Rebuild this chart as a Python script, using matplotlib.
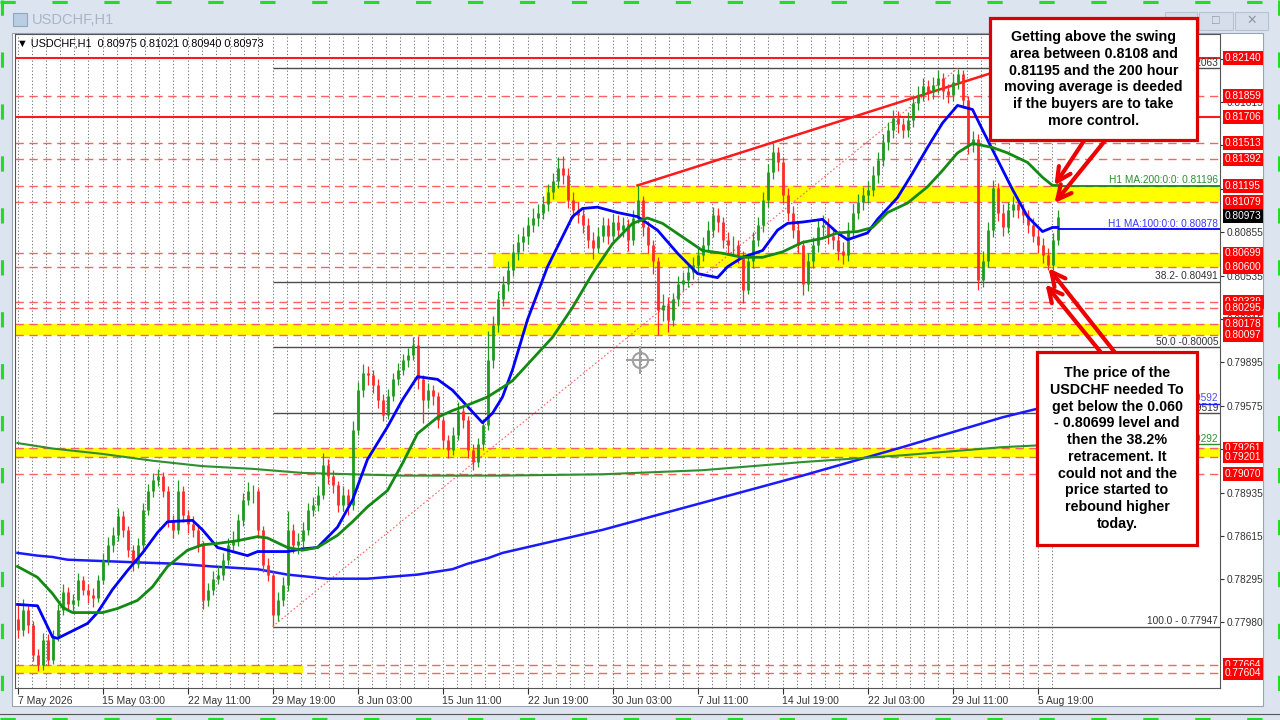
import numpy as np
import matplotlib.pyplot as plt
from matplotlib.patches import Rectangle
from matplotlib.lines import Line2D
from matplotlib.transforms import blended_transform_factory

plt.rcParams['font.family'] = ['Liberation Sans', 'DejaVu Sans']

# ---- price bars (aggregated from the H1 chart), values in 1e-4 units ----
first_open = 7800
close = [7792, 7807, 7796, 7774, 7766, 7785, 7770, 7788, 7807, 7820,
         7811, 7814, 7829, 7822, 7818, 7816, 7829, 7844, 7855, 7862,
         7876, 7866, 7851, 7841, 7855, 7881, 7895, 7903, 7906, 7895,
         7873, 7866, 7895, 7877, 7870, 7866, 7855, 7814, 7822, 7830,
         7833, 7844, 7855, 7858, 7873, 7888, 7895, 7895, 7866, 7840,
         7833, 7803, 7814, 7825, 7866, 7855, 7858, 7866, 7881, 7884,
         7892, 7914, 7906, 7899, 7884, 7892, 7884, 7940, 7969, 7982,
         7980, 7973, 7962, 7951, 7965, 7977, 7984, 7991, 7995, 8002,
         7977, 7962, 7969, 7965, 7947, 7932, 7925, 7936, 7954, 7947,
         7925, 7916, 7929, 7943, 7991, 8017, 8036, 8047, 8058, 8071,
         8078, 8083, 8091, 8096, 8100, 8106, 8115, 8123, 8133, 8128,
         8109, 8102, 8098, 8091, 8080, 8074, 8083, 8091, 8083, 8093,
         8087, 8091, 8080, 8096, 8109, 8089, 8076, 8064, 8028, 8032,
         8021, 8036, 8047, 8050, 8056, 8061, 8069, 8076, 8087, 8098,
         8093, 8080, 8076, 8076, 8069, 8043, 8064, 8080, 8091, 8109,
         8130, 8145, 8137, 8113, 8100, 8087, 8076, 8047, 8064, 8076,
         8089, 8091, 8083, 8080, 8072, 8069, 8087, 8100, 8108, 8113,
         8117, 8128, 8139, 8152, 8161, 8170, 8165, 8161, 8168, 8181,
         8187, 8193, 8189, 8194, 8199, 8190, 8187, 8196, 8202, 8183,
         8150, 8154, 8050, 8064, 8087, 8118, 8100, 8089, 8102, 8106,
         8102, 8098, 8091, 8083, 8076, 8069, 8061, 8080, 8097]
high = [7812, 7815, 7810, 7799, 7778, 7790, 7789, 7792, 7811, 7826,
        7824, 7819, 7834, 7832, 7826, 7823, 7833, 7849, 7861, 7868,
        7882, 7880, 7869, 7855, 7860, 7886, 7900, 7908, 7911, 7909,
        7898, 7877, 7903, 7898, 7881, 7876, 7870, 7858, 7827, 7836,
        7839, 7849, 7860, 7865, 7878, 7893, 7901, 7899, 7897, 7869,
        7845, 7836, 7820, 7831, 7880, 7870, 7864, 7872, 7886, 7890,
        7898, 7923, 7918, 7910, 7902, 7898, 7896, 7946, 7975, 7988,
        7987, 7984, 7977, 7966, 7970, 7982, 7989, 7996, 8000, 8008,
        8009, 7980, 7974, 7973, 7968, 7950, 7936, 7942, 7960, 7958,
        7950, 7929, 7934, 7948, 8013, 8024, 8042, 8053, 8064, 8077,
        8084, 8089, 8097, 8103, 8106, 8112, 8121, 8129, 8141, 8142,
        8133, 8115, 8108, 8104, 8096, 8086, 8089, 8097, 8096, 8099,
        8098, 8097, 8095, 8102, 8120, 8112, 8094, 8080, 8067, 8040,
        8038, 8041, 8053, 8056, 8062, 8067, 8075, 8082, 8094, 8104,
        8103, 8097, 8086, 8083, 8080, 8072, 8070, 8086, 8097, 8115,
        8136, 8151, 8148, 8141, 8118, 8105, 8092, 8080, 8070, 8082,
        8095, 8098, 8096, 8089, 8085, 8078, 8093, 8106, 8114, 8119,
        8123, 8134, 8145, 8158, 8167, 8176, 8175, 8170, 8174, 8187,
        8193, 8199, 8198, 8200, 8205, 8203, 8195, 8202, 8206, 8205,
        8186, 8160, 8158, 8072, 8093, 8124, 8122, 8106, 8108, 8112,
        8110, 8106, 8102, 8096, 8088, 8081, 8074, 8085, 8102]
low = [7786, 7788, 7790, 7769, 7762, 7763, 7766, 7767, 7784, 7803,
       7806, 7806, 7810, 7818, 7812, 7809, 7813, 7826, 7840, 7850,
       7858, 7861, 7846, 7836, 7838, 7852, 7877, 7890, 7898, 7890,
       7868, 7860, 7863, 7872, 7864, 7861, 7850, 7808, 7810, 7818,
       7826, 7829, 7840, 7851, 7854, 7869, 7884, 7886, 7860, 7835,
       7828, 7795, 7799, 7810, 7821, 7849, 7848, 7853, 7862, 7876,
       7880, 7889, 7900, 7893, 7879, 7880, 7877, 7881, 7936, 7964,
       7973, 7967, 7956, 7946, 7948, 7961, 7973, 7980, 7986, 7991,
       7970, 7945, 7956, 7958, 7941, 7926, 7919, 7921, 7932, 7941,
       7919, 7910, 7912, 7925, 7940, 7985, 8012, 8031, 8042, 8053,
       8065, 8072, 8077, 8086, 8090, 8095, 8101, 8110, 8118, 8121,
       8103, 8096, 8092, 8085, 8074, 8066, 8070, 8078, 8077, 8079,
       8081, 8082, 8072, 8076, 8092, 8083, 8070, 8055, 8010, 8020,
       8012, 8016, 8031, 8042, 8045, 8051, 8056, 8064, 8071, 8082,
       8086, 8074, 8070, 8069, 8063, 8033, 8040, 8059, 8075, 8086,
       8104, 8125, 8131, 8107, 8094, 8081, 8070, 8039, 8042, 8059,
       8071, 8083, 8077, 8073, 8065, 8062, 8064, 8082, 8095, 8102,
       8107, 8112, 8122, 8134, 8146, 8155, 8159, 8155, 8156, 8163,
       8176, 8182, 8183, 8184, 8188, 8184, 8181, 8182, 8191, 8177,
       8143, 8145, 8043, 8045, 8060, 8082, 8094, 8083, 8085, 8097,
       8096, 8092, 8085, 8078, 8070, 8063, 8058, 8058, 8076]

# moving averages (bar index, value in 1e-4 units)
ma100_x = [0, 4, 7, 8, 14, 16, 19, 22, 25, 28, 30, 35, 37, 40, 44, 46, 48, 50, 54, 57,
           60, 64, 67, 70, 74, 77, 80, 84, 87, 90, 93, 95, 97, 99, 102, 106, 111, 113, 116, 120,
           124, 128, 132, 136, 140, 142, 145, 149, 152, 154, 157, 161, 164, 166, 170, 172, 176, 179, 182, 185,
           188, 191, 193, 196, 199, 202, 205, 207, 208]
ma100_v = [7811, 7810, 7787, 7786, 7797, 7805, 7822, 7836, 7849, 7864, 7872, 7873, 7866, 7853, 7849, 7847, 7850, 7850, 7850, 7852,
           7853, 7868, 7888, 7918, 7942, 7962, 7979, 7977, 7969, 7957, 7945, 7952, 7964, 7984, 8021, 8060, 8097, 8103, 8104, 8100,
           8097, 8087, 8070, 8055, 8052, 8060, 8067, 8072, 8087, 8092, 8093, 8095, 8085, 8080, 8085, 8095, 8111, 8129, 8148, 8166,
           8179, 8176, 8161, 8139, 8117, 8097, 8086, 8089, 8089]
ma200_x = [0, 4, 7, 9, 11, 14, 17, 20, 24, 27, 30, 34, 37, 40, 44, 48, 50, 54, 57, 60,
           64, 67, 70, 74, 77, 80, 84, 87, 90, 94, 97, 99, 107, 111, 115, 119, 123, 126, 129, 133,
           137, 141, 145, 149, 153, 157, 161, 164, 168, 171, 174, 178, 182, 185, 188, 191, 195, 198, 202, 205,
           207, 208]
ma200_v = [7839, 7831, 7819, 7809, 7805, 7805, 7805, 7808, 7814, 7824, 7839, 7851, 7855, 7856, 7858, 7861, 7860, 7853, 7851, 7853,
           7862, 7872, 7883, 7895, 7915, 7937, 7949, 7954, 7958, 7964, 7971, 7976, 8008, 8030, 8055, 8077, 8092, 8096, 8092, 8082,
           8072, 8070, 8067, 8067, 8071, 8078, 8081, 8085, 8086, 8089, 8100, 8107, 8119, 8131, 8144, 8151, 8148, 8144, 8137, 8126,
           8120, 8120]
lt_blue_x = [0, 4, 7, 10, 17, 24, 32, 39, 48, 54, 62, 64, 70, 80, 87, 90, 94, 97, 117, 137, 157, 177, 197, 208]
lt_blue_v = [7849, 7847, 7846, 7844, 7843, 7842, 7841, 7839, 7837, 7833, 7830, 7830, 7830, 7833, 7837, 7841, 7845, 7849,
             7866, 7886, 7906, 7927, 7949, 7959]
lt_green_x = [0, 7, 17, 27, 37, 47, 57, 67, 77, 87, 97, 117, 137, 157, 177, 197, 208]
lt_green_v = [7930, 7926, 7922, 7917, 7913, 7911, 7908, 7907, 7906, 7906, 7906, 7907, 7910, 7916, 7921, 7927, 7929]

# levels
solid_levels = [0.82140, 0.81706]
dashed_levels = [0.81859, 0.81513, 0.81392, 0.81195, 0.81079, 0.80699, 0.80600, 0.80339, 0.80295,
                 0.80178, 0.80097, 0.79261, 0.79201, 0.79070, 0.77664, 0.77604]
zone_lo = [0.81079, 0.80600, 0.80097, 0.79201, 0.77604]
zone_hi = [0.81195, 0.80699, 0.80178, 0.79261, 0.77664]
zone_from = [105.6, 95, -0.5, -0.5, -0.5]
zone_to = [240.5, 240.5, 240.5, 240.5, 57]

fib_vals = [0.82063, 0.80491, 0.80005, 0.79519, 0.77947]
fib_text = ["0.0 - 0.82063", "38.2- 0.80491", "50.0 -0.80005", "61.8 - 0.79519", "100.0 - 0.77947"]
fib_from, fib_to = 51, 188
trend_x = [124, 200]
trend_v = [0.8120, 0.8209]

ytick_vals = [0.77980, 0.78295, 0.78615, 0.78935, 0.79255, 0.79575, 0.79895, 0.80215,
              0.80535, 0.80855, 0.81175, 0.81495, 0.81815, 0.82135]
xtick_idx = [0, 17, 34, 51, 68, 85, 102, 119, 136, 153, 170, 187, 204]
xtick_lbl = ["7 May 2026", "15 May 03:00", "22 May 11:00", "29 May 19:00", "8 Jun 03:00",
             "15 Jun 11:00", "22 Jun 19:00", "30 Jun 03:00", "7 Jul 11:00", "14 Jul 19:00",
             "22 Jul 03:00", "29 Jul 11:00", "5 Aug 19:00"]
last_price = 0.80973

W, H = 1280, 720
def fx(px):
    return px / W
def fy(py):
    return 1 - py / H

fig = plt.figure(figsize=(12.8, 7.2), dpi=100, facecolor='#dce5ef')
fig.add_artist(Rectangle((fx(12), fy(706)), fx(1263) - fx(12), fy(33) - fy(706),
                         transform=fig.transFigure, fc='white', ec='#98a4b2', lw=0.8, zorder=-1))
ax = fig.add_axes([fx(15), fy(688), fx(1220) - fx(15), fy(34) - fy(688)])
ax.set_facecolor('white')
x0, x1 = -0.5, 240.5
y0, y1 = 0.774938, 0.823168
ax.set_xlim(x0, x1)
ax.set_ylim(y0, y1)

# zones and levels
for lo_, hi_, a, b in zip(zone_lo, zone_hi, zone_from, zone_to):
    ax.fill_between([a, b], lo_, hi_, color='#ffff00', lw=0, zorder=1)
for v in dashed_levels:
    ax.axhline(v, color='#ff6060', lw=1.0, dashes=(6, 4), zorder=2)
for v in solid_levels:
    ax.axhline(v, color='#ff1a1a', lw=1.5, zorder=2)

# grid (vertical dotted, only under the bars)
grid_x = np.arange(0, len(close), 17 / 6)
ax.vlines(grid_x, y0, y1, colors='#7a7a7a', lw=0.75, linestyles=(0, (1.2, 2.0)), zorder=0.5)

# fibonacci
ax.hlines(fib_vals, fib_from, x1, colors='#4d4d4d', lw=1.0, zorder=2)
ax.plot([fib_from, fib_to], [fib_vals[-1], fib_vals[0]], color='#ff6060', lw=0.8, ls=(0, (1.5, 2)), zorder=2)
rt = blended_transform_factory(ax.transAxes, ax.transData)
for v, t in zip(fib_vals, fib_text):
    ax.text(0.9985, v + 0.00003, t, transform=rt, ha='right', va='bottom', fontsize=7.3, color='#333333', zorder=3)

# trend line
ax.plot(trend_x, trend_v, color='#ff1a1a', lw=1.8, zorder=3, clip_on=False)

# long-term MAs
ax.plot(lt_blue_x, np.array(lt_blue_v) / 1e4, color='#1a1aff', lw=1.8, zorder=3)
ax.plot(lt_green_x, np.array(lt_green_v) / 1e4, color='#2f8f2f', lw=1.5, zorder=3)
ax.hlines(lt_blue_v[-1] / 1e4, lt_blue_x[-1], x1, colors='#1a1aff', lw=1.0, zorder=3)
ax.hlines(lt_green_v[-1] / 1e4, lt_green_x[-1], x1, colors='#2f8f2f', lw=1.0, zorder=3)
ax.text(0.9985, lt_blue_v[-1] / 1e4 + 0.00003, "0.79592", transform=rt, ha='right', va='bottom',
        fontsize=7.3, color='#4a4aff', zorder=3)
ax.text(0.9985, lt_green_v[-1] / 1e4 + 0.00003, "0.79292", transform=rt, ha='right', va='bottom',
        fontsize=7.3, color='#2f8f2f', zorder=3)

# candles
idx = np.arange(len(close))
cl = np.array(close) / 1e4
op = np.r_[first_open, close[:-1]] / 1e4
hi = np.array(high) / 1e4
lo = np.array(low) / 1e4
col = np.where(cl >= op, '#1f9a1f', '#ff2a2a')
ax.vlines(idx, lo, hi, colors=col, lw=0.9, zorder=4)
ax.vlines(idx, np.minimum(op, cl), np.maximum(op, cl), colors=col, lw=2.0, zorder=4)

# H1 moving averages
ax.plot(ma100_x, np.array(ma100_v) / 1e4, color='#0000ff', lw=2.0, zorder=5)
ax.plot(ma200_x, np.array(ma200_v) / 1e4, color='#138a13', lw=2.0, zorder=5)
ax.hlines(0.81196, ma200_x[-1], x1, colors='#138a13', lw=1.3, zorder=5)
ax.hlines(0.80878, ma100_x[-1], x1, colors='#0000ff', lw=1.3, zorder=5)
ax.text(0.9985, 0.81196 + 0.00004, "H1 MA:200:0:0: 0.81196", transform=rt, ha='right', va='bottom',
        fontsize=7.3, color='#2f8f2f', zorder=5)
ax.text(0.9985, 0.80878 + 0.00004, "H1 MA:100:0:0: 0.80878", transform=rt, ha='right', va='bottom',
        fontsize=7.3, color='#3a3aff', zorder=5)

# header line
ax.text(2 / 1205, 1 - 9 / 654, "\u25bc USDCHF,H1  0.80975 0.81021 0.80940 0.80973", transform=ax.transAxes,
        ha='left', va='center', fontsize=7.8, color='black', zorder=6)

# crosshair cursor mark
fig.add_artist(Line2D([fx(640)], [fy(360)], transform=fig.transFigure, marker='o', ms=11, mfc='none',
                      mec='#a0a0a0', mew=1.5, zorder=3))
fig.add_artist(Line2D([fx(640)], [fy(360)], transform=fig.transFigure, marker='+', ms=20, mec='#a0a0a0',
                      mew=1.5, zorder=3))

# axes styling
for s in ax.spines.values():
    s.set_color('#555555')
    s.set_linewidth(0.8)
ax.yaxis.tick_right()
ax.set_yticks(ytick_vals)
ax.set_yticklabels([f"{v:.5f}" for v in ytick_vals])
ax.tick_params(axis='y', direction='out', length=3, pad=2, labelsize=7.3, colors='#333333')
ax.set_xticks(xtick_idx)
ax.set_xticklabels(xtick_lbl)
ax.tick_params(axis='x', direction='out', length=4, pad=2, labelsize=7.5, colors='#333333')
for t in ax.get_xticklabels():
    t.set_horizontalalignment('left')

# price labels on the scale
for v in sorted(solid_levels + dashed_levels, reverse=True):
    ax.text(1.004, v, f"{v:.5f}", transform=rt, ha='left', va='center', fontsize=7.3, color='white',
            bbox=dict(boxstyle='square,pad=0.18', fc='#ff0000', ec='none'), clip_on=False, zorder=8)
ax.text(1.004, last_price, f"{last_price:.5f}", transform=rt, ha='left', va='center', fontsize=7.3,
        color='white', bbox=dict(boxstyle='square,pad=0.18', fc='black', ec='none'), clip_on=False, zorder=9)

# arrows
arrow_tip = [(207.4, 0.8120), (207.4, 0.8107), (206.2, 0.8059), (205.6, 0.8047)]
arrow_tail = [(213.4, 0.81535), (217.6, 0.81535), (219.4, 0.79972), (216.6, 0.79972)]
for tip, tail in zip(arrow_tip, arrow_tail):
    ax.annotate("", xy=tip, xytext=tail, annotation_clip=False, zorder=7,
                arrowprops=dict(arrowstyle='->,head_length=1.0,head_width=0.5', color='#ee0000',
                                lw=3, shrinkA=0, shrinkB=0))

# comment boxes
fig.add_artist(Rectangle((fx(990), fy(140)), fx(1197) - fx(990), fy(18) - fy(140), transform=fig.transFigure,
                         fc='white', ec='#dd0000', lw=2.3, zorder=5))
fig.text(fx(1093.5), fy(79), "Getting above the swing\narea between 0.8108 and\n0.81195 and the 200 hour\n"
         "moving average is deeded\nif the buyers are to take\nmore control.",
         ha='center', va='center', fontsize=10.3, fontweight='bold', linespacing=1.25, zorder=6)
fig.add_artist(Rectangle((fx(1037), fy(545)), fx(1197) - fx(1037), fy(352) - fy(545), transform=fig.transFigure,
                         fc='white', ec='#dd0000', lw=2.3, zorder=5))
fig.text(fx(1117), fy(448.5), "The price of the\nUSDCHF needed To\nget below the 0.060\n- 0.80699 level and\n"
         "then the 38.2%\nretracement. It\ncould not and the\nprice started to\nrebound higher\ntoday.",
         ha='center', va='center', fontsize=10.3, fontweight='bold', linespacing=1.25, zorder=6)

# window decoration
fig.add_artist(Rectangle((fx(13), fy(26)), fx(14), fy(13) - fy(26), transform=fig.transFigure,
                         fc='#b9cde3', ec='#8fa6c0', lw=0.8, zorder=2))
fig.text(fx(32), fy(20), "USDCHF,H1", ha='left', va='center', fontsize=10.5, color='#a9b5c2', zorder=2)
for bx0, bx1, g in [(1165, 1197, ""), (1199, 1233, "\u25a1"), (1235, 1268, "\u2715")]:
    fig.add_artist(Rectangle((fx(bx0), fy(30)), fx(bx1 - bx0), fy(12) - fy(30), transform=fig.transFigure,
                             fc='#d5dee9', ec='#b6c2d0', lw=0.8, zorder=2))
    fig.text(fx((bx0 + bx1) / 2), fy(21), g, ha='center', va='center', fontsize=9, color='#8a96a4', zorder=3)
for (xa, ya, xb, yb) in [(0, 1.5, 1280, 1.5), (0, 718.5, 1280, 718.5), (1.5, 0, 1.5, 720), (1278.5, 0, 1278.5, 720)]:
    fig.add_artist(Line2D([fx(xa), fx(xb)], [fy(ya), fy(yb)], transform=fig.transFigure, color='#22dd22',
                          lw=2.2, dashes=(5, 12), zorder=2))
fig.add_artist(Line2D([fx(0), fx(1280)], [fy(714), fy(714)], transform=fig.transFigure, color='#555555',
                      lw=0.8, zorder=2))

fig.savefig("out.png", dpi=100, facecolor=fig.get_facecolor())
